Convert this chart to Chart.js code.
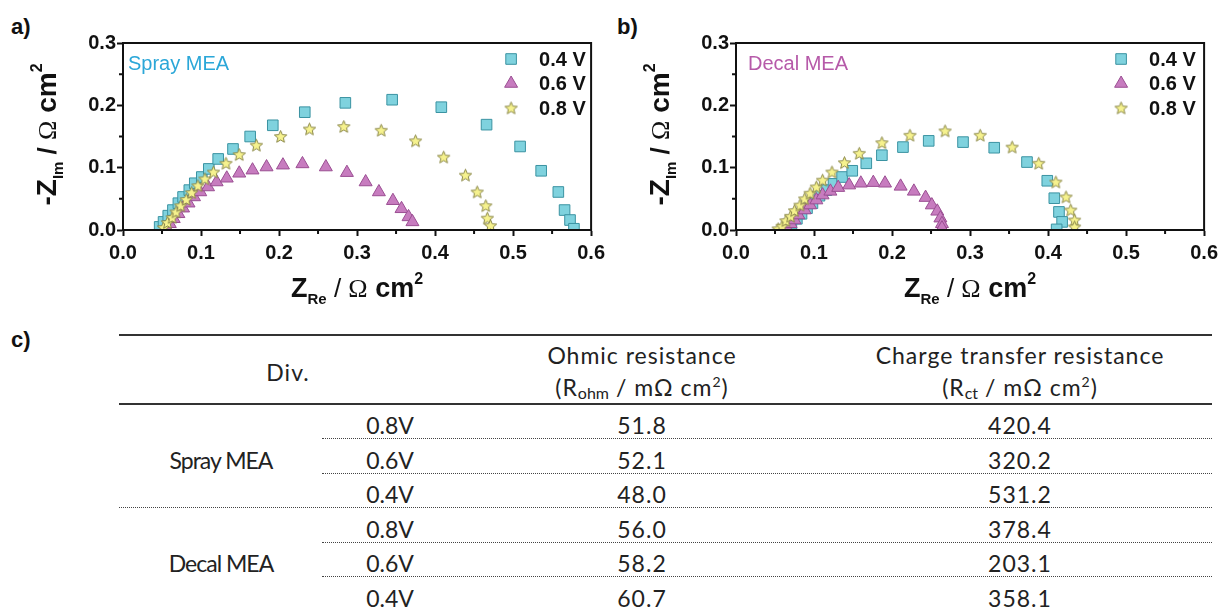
<!DOCTYPE html>
<html>
<head>
<meta charset="utf-8">
<script src="https://cdn.jsdelivr.net/npm/chart.js@4.4.0/dist/chart.umd.min.js"></script>
<style>
  body { margin: 0; background: #fff; width: 1223px; height: 608px; position: relative; overflow: hidden; }
  canvas { position: absolute; top: 0; }
  .panel { position: absolute; font: bold 22px "Liberation Sans", Arial, sans-serif; color: #111; }
  .t { position: absolute; transform: translate(-50%, -50%); white-space: nowrap; font: 23px Lato, "Open Sans", sans-serif; color: #222; letter-spacing: 1px; }
  .t.v { letter-spacing: 0; }
  .t.g { letter-spacing: -1px; }
  .t sub { font-size: 16px; vertical-align: -3px; letter-spacing: 0; }
  .t sup { font-size: 14px; vertical-align: 9px; }
  .rule { position: absolute; height: 0; }
</style>
</head>
<body>
<div class="panel" style="left:11px;top:14px">a)</div>
<div class="panel" style="left:617px;top:14px">b)</div>
<div class="panel" style="left:11px;top:327px">c)</div>
<canvas id="chartA" width="610" height="310" style="left:0"></canvas>
<canvas id="chartB" width="613" height="310" style="left:610px"></canvas>
<div id="table"></div>
<script>
// axis ticks
const xTicks = [0, 0.1, 0.2, 0.3, 0.4, 0.5, 0.6];
const yTicks = [0, 0.1, 0.2, 0.3];
const seriesLabels = ['0.4 V', '0.6 V', '0.8 V'];

// a) Spray MEA
const sprayRe04 = [0.047, 0.052, 0.058, 0.064, 0.071, 0.077, 0.085, 0.092, 0.101, 0.110, 0.122, 0.141, 0.163, 0.192, 0.233, 0.285, 0.345, 0.408, 0.466, 0.509, 0.536, 0.558, 0.566, 0.573, 0.578];
const sprayIm04 = [0.005, 0.013, 0.023, 0.032, 0.043, 0.053, 0.064, 0.075, 0.085, 0.098, 0.114, 0.130, 0.150, 0.168, 0.189, 0.204, 0.209, 0.197, 0.169, 0.134, 0.095, 0.061, 0.032, 0.016, 0.002];
const sprayRe06 = [0.056, 0.060, 0.065, 0.071, 0.077, 0.084, 0.091, 0.099, 0.109, 0.120, 0.133, 0.149, 0.166, 0.184, 0.205, 0.230, 0.260, 0.287, 0.311, 0.328, 0.346, 0.357, 0.366, 0.371];
const sprayIm06 = [0.003, 0.010, 0.018, 0.026, 0.035, 0.043, 0.053, 0.061, 0.069, 0.077, 0.083, 0.091, 0.096, 0.101, 0.104, 0.106, 0.101, 0.092, 0.077, 0.061, 0.047, 0.034, 0.021, 0.013];
const sprayRe08 = [0.052, 0.057, 0.063, 0.068, 0.074, 0.081, 0.088, 0.096, 0.105, 0.116, 0.132, 0.149, 0.171, 0.202, 0.239, 0.283, 0.331, 0.375, 0.411, 0.439, 0.454, 0.465, 0.467, 0.471];
const sprayIm08 = [0.004, 0.012, 0.020, 0.029, 0.039, 0.049, 0.060, 0.071, 0.082, 0.093, 0.107, 0.121, 0.136, 0.150, 0.162, 0.166, 0.160, 0.143, 0.117, 0.088, 0.061, 0.039, 0.019, 0.007];

// b) Decal MEA
const decalRe04 = [0.066, 0.071, 0.078, 0.084, 0.091, 0.098, 0.107, 0.116, 0.125, 0.136, 0.149, 0.167, 0.187, 0.214, 0.247, 0.291, 0.331, 0.373, 0.399, 0.408, 0.414, 0.418, 0.411];
const decalIm04 = [0.003, 0.010, 0.018, 0.026, 0.035, 0.043, 0.055, 0.064, 0.074, 0.085, 0.095, 0.107, 0.120, 0.133, 0.143, 0.141, 0.132, 0.109, 0.079, 0.051, 0.029, 0.013, 0.001];
const decalRe06 = [0.065, 0.070, 0.075, 0.080, 0.088, 0.095, 0.103, 0.111, 0.121, 0.131, 0.145, 0.160, 0.176, 0.191, 0.211, 0.228, 0.243, 0.251, 0.258, 0.262, 0.264, 0.264];
const decalIm06 = [0.003, 0.010, 0.016, 0.024, 0.032, 0.040, 0.048, 0.056, 0.062, 0.068, 0.072, 0.075, 0.076, 0.075, 0.070, 0.062, 0.052, 0.040, 0.030, 0.019, 0.010, 0.003];
const decalRe08 = [0.054, 0.059, 0.064, 0.070, 0.075, 0.082, 0.088, 0.095, 0.103, 0.111, 0.123, 0.139, 0.158, 0.187, 0.223, 0.268, 0.313, 0.354, 0.388, 0.410, 0.423, 0.429, 0.434, 0.434];
const decalIm08 = [0.002, 0.006, 0.015, 0.022, 0.031, 0.040, 0.050, 0.059, 0.069, 0.080, 0.093, 0.108, 0.123, 0.140, 0.152, 0.159, 0.152, 0.133, 0.107, 0.077, 0.053, 0.032, 0.016, 0.005];

// c) table
const tableGroups = ['Spray MEA', 'Decal MEA'];
const tableVoltages = ['0.8V', '0.6V', '0.4V'];
const ohmicValues = [[51.8, 52.1, 48.0], [56.0, 58.2, 60.7]];
const chargeValues = [[420.4, 320.2, 531.2], [378.4, 203.1, 358.1]];

const SANS = '"Liberation Sans", Arial, sans-serif';
const bold = s => 'bold ' + s + 'px ' + SANS;

function makeStar(size, fill, stroke) {
    const c = document.createElement('canvas');
    c.width = c.height = size;
    const g = c.getContext('2d');
    const m = size / 2, r = m - 1, ri = r * 0.45;
    g.beginPath();
    for (let i = 0; i < 10; i++) {
        const a = -Math.PI / 2 + i * Math.PI / 5;
        const rr = i % 2 ? ri : r;
        g.lineTo(m + rr * Math.cos(a), m + 0.5 + rr * Math.sin(a));
    }
    g.closePath();
    g.fillStyle = fill;
    g.fill();
    g.strokeStyle = stroke;
    g.lineWidth = 1;
    g.stroke();
    return c;
}

const star = makeStar(15, '#f6f28e', '#8a8748');
const styles = [
    {pointStyle: 'rect', radius: 7.5, fill: '#7fd2de', stroke: '#3b93a2', order: 3},
    {pointStyle: 'triangle', radius: 7.5, fill: '#c77cbf', stroke: '#9a4e92', order: 2},
    {pointStyle: star, radius: 7, fill: '#f6f28e', stroke: '#8a8748', order: 1}
];

function drawRich(ctx, parts, cx, baseY) {
    let w = 0;
    parts.forEach(p => { ctx.font = p.font; p.w = ctx.measureText(p.t).width; w += p.w; });
    let x = cx - w / 2;
    ctx.textAlign = 'left';
    ctx.textBaseline = 'alphabetic';
    parts.forEach(p => {
        ctx.font = p.font;
        ctx.fillText(p.t, x, baseY + (p.dy || 0));
        x += p.w;
    });
}

const framePlugin = {
    id: 'frame',
    afterDraw(chart, args, opts) {
        const ctx = chart.ctx;
        const a = chart.chartArea;
        const xs = chart.scales.x, ys = chart.scales.y;
        ctx.save();
        ctx.strokeStyle = '#111';
        ctx.lineWidth = 2;
        ctx.strokeRect(a.left, a.top, a.right - a.left, a.bottom - a.top);

        // minor ticks
        ctx.beginPath();
        for (let v = 0.05; v < 0.6; v += 0.1) {
            const px = xs.getPixelForValue(v);
            ctx.moveTo(px, a.bottom);
            ctx.lineTo(px, a.bottom + 4);
        }
        for (let v = 0.05; v < 0.3; v += 0.1) {
            const py = ys.getPixelForValue(v);
            ctx.moveTo(a.left, py);
            ctx.lineTo(a.left - 4, py);
        }
        ctx.stroke();

        // sample name
        ctx.fillStyle = opts.nameColor;
        ctx.font = '20px ' + SANS;
        ctx.textAlign = 'left';
        ctx.textBaseline = 'middle';
        ctx.fillText(opts.name, a.left + opts.nameOffset, a.top + 21);

        // legend
        chart.data.datasets.forEach((ds, i) => {
            const y = a.top + 16 + i * 24.5;
            const x = a.right - opts.legendOffset;
            ctx.fillStyle = ds.backgroundColor;
            ctx.strokeStyle = ds.borderColor;
            ctx.lineWidth = 1;
            Chart.helpers.drawPoint(ctx, {pointStyle: ds.pointStyle, radius: ds.pointRadius, rotation: 0, borderWidth: 1}, x, y);
            ctx.fillStyle = '#111';
            ctx.font = bold(20);
            ctx.textAlign = 'left';
            ctx.textBaseline = 'middle';
            ctx.fillText(ds.label, x + 28, y + 1);
        });

        // axis titles
        ctx.fillStyle = '#111';
        drawRich(ctx, [
            {t: 'Z', font: bold(27)},
            {t: 'Re', font: bold(15), dy: 7},
            {t: ' / ', font: '26px ' + SANS},
            {t: 'Ω', font: '26px "Liberation Serif", serif'},
            {t: ' cm', font: bold(27)},
            {t: '2', font: bold(16), dy: -13}
        ], (a.left + a.right) / 2, 297);

        ctx.translate(a.left - 67, (a.top + a.bottom) / 2 - 2);
        ctx.rotate(-Math.PI / 2);
        drawRich(ctx, [
            {t: '-Z', font: bold(28)},
            {t: 'Im', font: bold(15), dy: 7},
            {t: ' / ', font: bold(26)},
            {t: 'Ω', font: '26px "Liberation Serif", serif'},
            {t: ' cm', font: bold(28)},
            {t: '2', font: bold(16), dy: -14}
        ], 0, 0);
        ctx.restore();
    }
};

function buildChart(id, series, opts) {
    const datasets = series.map((s, i) => ({
        label: seriesLabels[i],
        data: s[0].map((x, j) => ({x: x, y: s[1][j]})),
        pointStyle: styles[i].pointStyle,
        pointRadius: styles[i].radius,
        pointHoverRadius: styles[i].radius,
        backgroundColor: styles[i].fill,
        borderColor: styles[i].stroke,
        borderWidth: 1,
        order: styles[i].order
    }));
    const tickFont = {family: SANS, weight: 'bold', size: 20};
    return new Chart(document.getElementById(id), {
        type: 'scatter',
        data: {datasets: datasets},
        options: {
            responsive: false,
            animation: false,
            events: [],
            layout: {padding: {left: 0, right: opts.padRight, top: 43, bottom: 0}},
            plugins: {legend: {display: false}, tooltip: {enabled: false}, frame: opts},
            scales: {
                x: {
                    type: 'linear', min: 0, max: 0.6,
                    afterBuildTicks: s => { s.ticks = xTicks.map(v => ({value: v})); },
                    afterFit: s => { s.height = 80; },
                    ticks: {callback: v => v.toFixed(1), font: tickFont, color: '#111', padding: 5, maxRotation: 0, autoSkip: false},
                    grid: {drawOnChartArea: false, tickLength: 6, tickWidth: 2, tickColor: '#111'},
                    border: {width: 2, color: '#111'}
                },
                y: {
                    type: 'linear', min: 0, max: 0.3,
                    afterBuildTicks: s => { s.ticks = yTicks.map(v => ({value: v})); },
                    afterFit: s => { s.width = opts.axisWidth; },
                    ticks: {callback: v => v.toFixed(1), font: tickFont, color: '#111', padding: 1, autoSkip: false},
                    grid: {drawOnChartArea: false, tickLength: 6, tickWidth: 2, tickColor: '#111'},
                    border: {width: 2, color: '#111'}
                }
            }
        },
        plugins: [framePlugin]
    });
}

buildChart('chartA', [[sprayRe04, sprayIm04], [sprayRe06, sprayIm06], [sprayRe08, sprayIm08]],
    {axisWidth: 123, padRight: 18, name: 'Spray MEA', nameColor: '#2ba7d8', nameOffset: 5, legendOffset: 80});
buildChart('chartB', [[decalRe04, decalIm04], [decalRe06, decalIm06], [decalRe08, decalIm08]],
    {axisWidth: 126, padRight: 16, name: 'Decal MEA', nameColor: '#b65aa9', nameOffset: 12, legendOffset: 83});

// table c)
const table = document.getElementById('table');
function put(html, cx, cy, cls) {
    const d = document.createElement('div');
    d.className = 't' + (cls ? ' ' + cls : '');
    d.style.left = cx + 'px';
    d.style.top = cy + 'px';
    d.innerHTML = html;
    table.appendChild(d);
}
function rule(x1, x2, y, style) {
    const d = document.createElement('div');
    d.className = 'rule';
    d.style.left = x1 + 'px';
    d.style.width = (x2 - x1) + 'px';
    d.style.top = y + 'px';
    d.style.borderTop = style;
    table.appendChild(d);
}
const solid = '2px solid #333';
const dotted = '1.5px dotted #444';
rule(119, 1212, 334, solid);
rule(119, 1212, 403, solid);
put('Div.', 288, 372);
put('Ohmic resistance', 642, 355);
put('(R<sub>ohm</sub> / mΩ cm<sup>2</sup>)', 642, 387);
put('Charge transfer resistance', 1020, 355);
put('(R<sub>ct</sub> / mΩ cm<sup>2</sup>)', 1020, 387);
const rowY0 = 425, rowStep = 34.6;
tableGroups.forEach((g, gi) => {
    put(g, 221, rowY0 + (gi * 3 + 1) * rowStep, 'g');
    tableVoltages.forEach((v, vi) => {
        const y = rowY0 + (gi * 3 + vi) * rowStep;
        put(v, 390, y, 'v');
        put(ohmicValues[gi][vi].toFixed(1), 642, y);
        put(chargeValues[gi][vi].toFixed(1), 1020, y);
        if (gi * 3 + vi < 5) {
            rule(vi === 2 ? 119 : 322, 1212, y + 13, dotted);
        }
    });
});
</script>
</body>
</html>
